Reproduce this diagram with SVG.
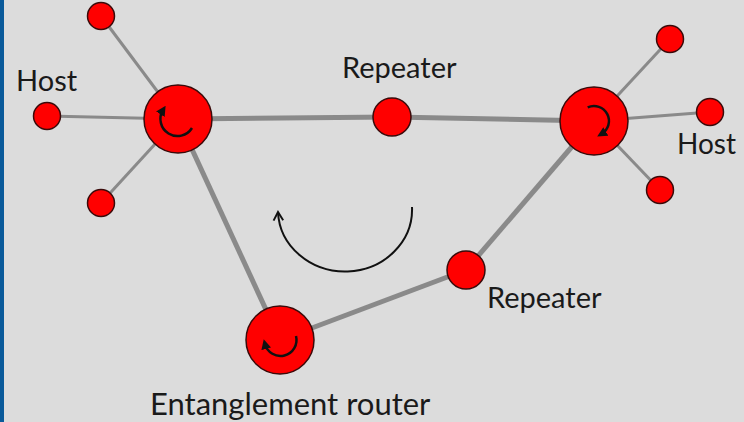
<svg xmlns="http://www.w3.org/2000/svg" width="744" height="422" viewBox="0 0 744 422">
<style>
.node{fill:#ff0000;stroke:#3a0a0a;stroke-width:1.5}
.thick{stroke:#8a8a8a;stroke-width:5;fill:none}
.thin{stroke:#8a8a8a;stroke-width:3;fill:none}
.rot{stroke:#111;stroke-width:2.5;fill:none}
.lbl{font-family:Lato,"Open Sans",sans-serif;font-size:29px;fill:#1a1a1a}
</style>
<defs>
<marker id="ah" viewBox="0 0 10 10" refX="5" refY="5" markerWidth="4" markerHeight="4" orient="auto-start-reverse" markerUnits="strokeWidth">
<path d="M0,0 L10,5 L0,10 z" fill="#111"/>
</marker>
<marker id="open" viewBox="0 0 10 10" refX="8" refY="5" markerWidth="6" markerHeight="6" orient="auto-start-reverse" markerUnits="strokeWidth">
<path d="M1,1 L8,5 L1,9" fill="none" stroke="#111" stroke-width="1.6"/>
</marker>
</defs>
<rect width="744" height="422" fill="#dcdcdc"/>
<rect x="0" y="0" width="4" height="422" fill="#0a5a9a"/>
<g id="connectors">
<line class="thick" x1="178" y1="119" x2="392" y2="117"/>
<line class="thick" x1="392" y1="117" x2="594" y2="121"/>
<line class="thick" x1="594" y1="121" x2="466" y2="270"/>
<line class="thick" x1="466" y1="270" x2="280" y2="340"/>
<line class="thick" x1="280" y1="340" x2="178" y2="119"/>
<line class="thin" x1="178" y1="119" x2="101" y2="16"/>
<line class="thin" x1="178" y1="119" x2="47" y2="116"/>
<line class="thin" x1="178" y1="119" x2="101" y2="203"/>
<line class="thin" x1="594" y1="121" x2="670" y2="39"/>
<line class="thin" x1="594" y1="121" x2="710" y2="112"/>
<line class="thin" x1="594" y1="121" x2="660" y2="190"/>
</g>
<g id="cycle-arrow">
<path d="M412,207 A67,62 0 0 1 278,212" fill="none" stroke="#111" stroke-width="2" marker-end="url(#open)"/>
</g>
<g id="host-left-top"><circle class="node" cx="101" cy="16" r="13.5"/></g>
<g id="host-left"><circle class="node" cx="47" cy="116" r="13.5"/></g>
<g id="host-left-bottom"><circle class="node" cx="101" cy="203" r="13.5"/></g>
<g id="host-right-top"><circle class="node" cx="670" cy="39" r="13.5"/></g>
<g id="host-right"><circle class="node" cx="710" cy="112" r="13.5"/></g>
<g id="host-right-bottom"><circle class="node" cx="660" cy="190" r="13.5"/></g>
<g id="router-left">
<circle class="node" cx="178" cy="119" r="34"/>
<path class="rot" d="M163,110 A15,15 0 0 0 192,128" marker-start="url(#ah)"/>
</g>
<g id="router-right">
<circle class="node" cx="594" cy="121" r="34"/>
<path class="rot" d="M587.7,107.4 A15,15 0 0 1 601.5,134" marker-end="url(#ah)"/>
</g>
<g id="router-bottom">
<circle class="node" cx="280" cy="340" r="34"/>
<path class="rot" d="M265,344 A16,16 0 0 0 296,336" marker-start="url(#ah)"/>
</g>
<g id="repeater-top"><circle class="node" cx="392" cy="117" r="19"/></g>
<g id="repeater-bottom"><circle class="node" cx="466" cy="270" r="19"/></g>
<g id="labels">
<text class="lbl" x="16" y="91">Host</text>
<text class="lbl" x="677" y="154" style="font-size:28px">Host</text>
<text class="lbl" x="342" y="78">Repeater</text>
<text class="lbl" x="487" y="308">Repeater</text>
<text class="lbl" x="150" y="415" style="font-size:31px">Entanglement router</text>
</g>
</svg>
